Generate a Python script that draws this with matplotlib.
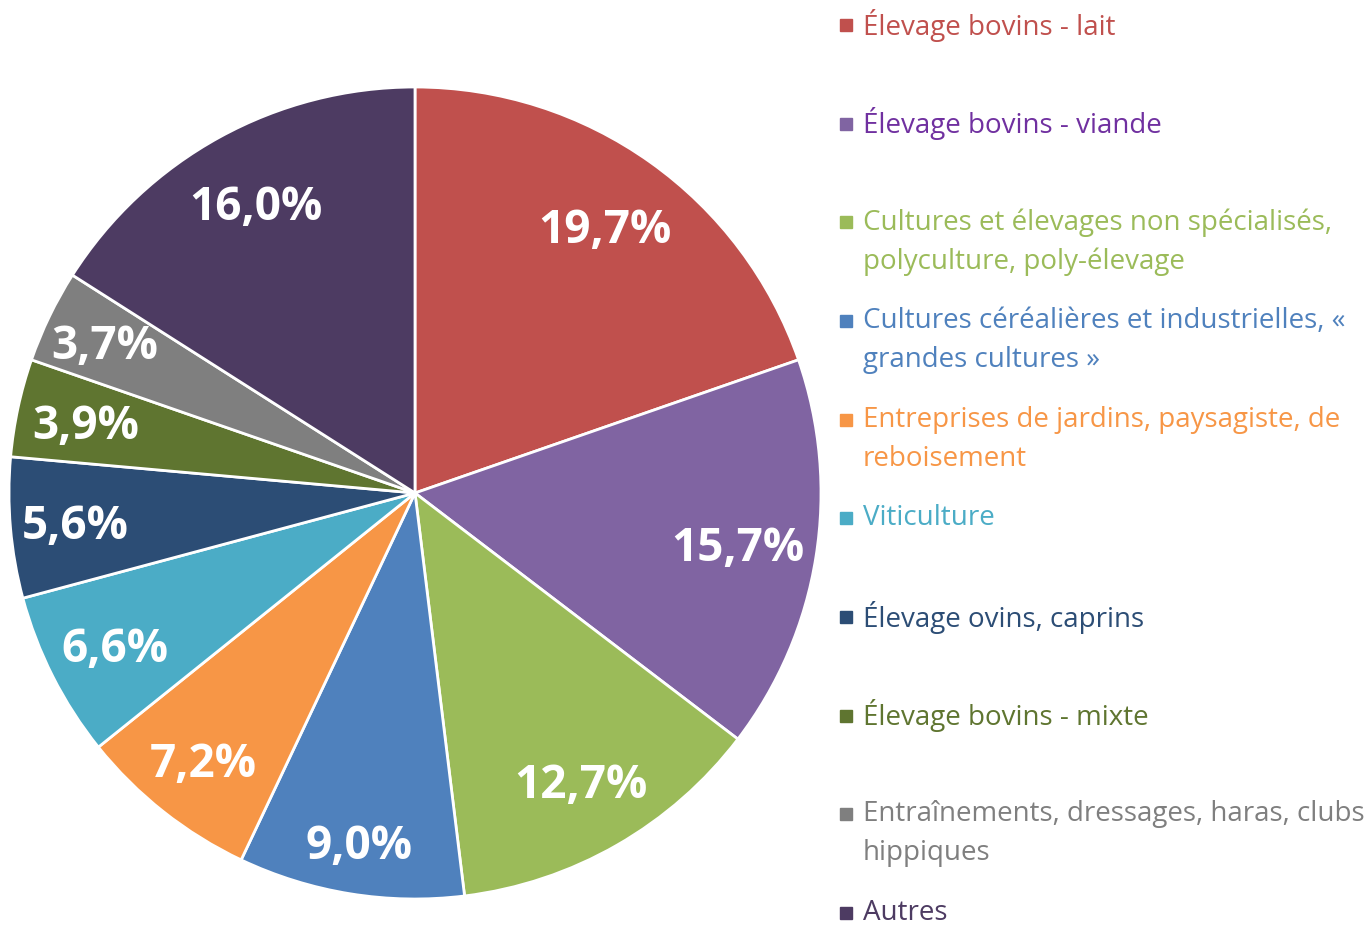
import numpy as np
import matplotlib
matplotlib.use("Agg")
import matplotlib.pyplot as plt

plt.rcParams['font.family'] = ['Open Sans', 'DejaVu Sans']

# data
categories = [
    "Élevage bovins - lait",
    "Élevage bovins - viande",
    "Cultures et élevages non spécialisés,\npolyculture, poly-élevage",
    "Cultures céréalières et industrielles, «\ngrandes cultures »",
    "Entreprises de jardins, paysagiste, de\nreboisement",
    "Viticulture",
    "Élevage ovins, caprins",
    "Élevage bovins - mixte",
    "Entraînements, dressages, haras, clubs\nhippiques",
    "Autres",
]
values = [19.7, 15.7, 12.7, 9.0, 7.2, 6.6, 5.6, 3.9, 3.7, 16.0]
colors = ["#C0504D", "#8064A2", "#9BBB59", "#4F81BD", "#F79646",
          "#4BACC6", "#2C4D75", "#5F7530", "#7F7F7F", "#4D3B62"]
text_colors = ["#C0504D", "#7030A0", "#9BBB59", "#4F81BD", "#F79646",
               "#4BACC6", "#2C4D75", "#5F7530", "#7F7F7F", "#4D3B62"]

# distance of each % label from the centre (fraction of radius)
label_dist = [0.805, 0.805, 0.82, 0.873, 0.84, 0.83, 0.84, 0.83, 0.85, 0.813]

W, H = 1368, 925
fig = plt.figure(figsize=(W / 100, H / 100), dpi=100)

# pie: center (415, 493) px, radius 406 px
cx, cy, r = 415, 493, 406
ax = fig.add_axes([(cx - r) / W, (H - cy - r) / H, 2 * r / W, 2 * r / H])
wedges, _ = ax.pie(
    values, colors=colors, startangle=90, counterclock=False,
    wedgeprops=dict(edgecolor="white", linewidth=2))
lab_size = 33
for w, v, d in zip(wedges, values, label_dist):
    ang = np.deg2rad((w.theta1 + w.theta2) / 2)
    # baseline shifted down by half the cap height so the digits sit centred
    ax.annotate(f"{v:.1f}%".replace(".", ","),
                (d * np.cos(ang), d * np.sin(ang)),
                xytext=(0, -0.357 * lab_size), textcoords="offset points",
                color="white", fontsize=lab_size, fontweight="bold",
                ha="center", va="baseline")
ax.set_xlim(-1, 1)
ax.set_ylim(-1, 1)
ax.set_aspect("equal")
ax.axis("off")

# legend, drawn by hand to get the coloured text
row_y0, row_step, line_step = 25, 98.67, 39
for i, (lab, col, tcol) in enumerate(zip(categories, colors, text_colors)):
    y = row_y0 + i * row_step
    fig.patches.append(plt.Rectangle((840 / W, 1 - (y + 6) / H), 12 / W, 12 / H,
                                     transform=fig.transFigure, color=col))
    for j, line in enumerate(lab.split("\n")):
        fig.text(863 / W, 1 - (y + j * line_step) / H, line, color=tcol,
                 fontsize=20, va="center", ha="left")

fig.savefig("out.png", dpi=100)
